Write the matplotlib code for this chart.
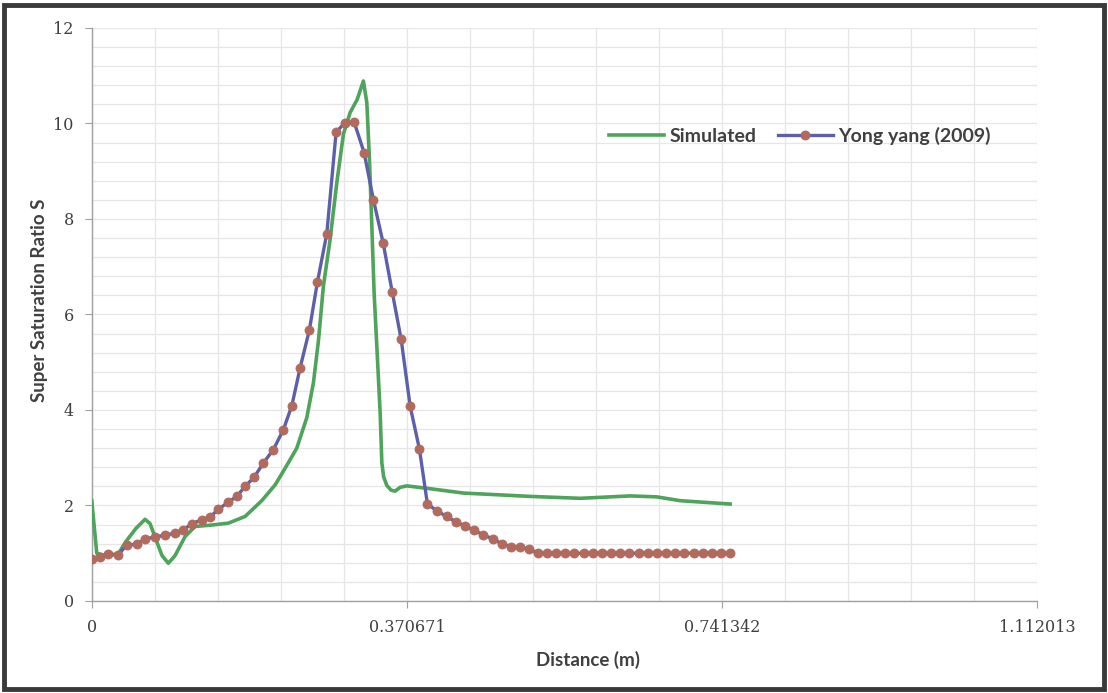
import matplotlib
matplotlib.use("Agg")
import matplotlib.pyplot as plt
from matplotlib.patches import Rectangle
from matplotlib.ticker import MultipleLocator, FixedLocator

# ---- data ----
sim_x = [0.000, 0.0059, 0.0157, 0.031, 0.0404, 0.052, 0.0627, 0.0686, 0.0763, 0.0827,
         0.0901, 0.098, 0.1098, 0.1216, 0.1412, 0.1607, 0.1804, 0.2000, 0.2157, 0.2275,
         0.2412, 0.2530, 0.2608, 0.2667, 0.2725, 0.2804, 0.2883, 0.2961, 0.3040, 0.3122,
         0.3196, 0.3236, 0.3267, 0.3295, 0.3322, 0.3354, 0.3393, 0.3413, 0.3434, 0.3471,
         0.3522, 0.3569, 0.3628, 0.3707, 0.3942, 0.4373, 0.5158, 0.5746, 0.6335, 0.6649,
         0.6923, 0.7511]
sim_y = [2.10, 1.00, 0.95, 0.98, 1.25, 1.52, 1.71, 1.62, 1.25, 0.95,
         0.79, 0.95, 1.35, 1.56, 1.59, 1.63, 1.77, 2.10, 2.43, 2.78,
         3.20, 3.84, 4.57, 5.45, 6.59, 7.57, 8.76, 9.78, 10.23, 10.50,
         10.89, 10.44, 9.25, 7.85, 6.45, 5.33, 3.94, 2.89, 2.60, 2.42,
         2.32, 2.30, 2.38, 2.41, 2.36, 2.26, 2.19, 2.15, 2.20, 2.18,
         2.10, 2.03]

yong_x = [0.0000, 0.0098, 0.0195, 0.0313, 0.0412, 0.0530, 0.0627, 0.0745, 0.0862, 0.0980,
          0.1078, 0.1180, 0.1294, 0.1392, 0.1490, 0.1607, 0.1706, 0.1804, 0.1910, 0.2019,
          0.2137, 0.2255, 0.2354, 0.2451, 0.2561, 0.2655, 0.2765, 0.2875, 0.2981, 0.3087,
          0.3204, 0.3314, 0.3428, 0.3534, 0.3640, 0.3746, 0.3855, 0.3949, 0.4067, 0.4175,
          0.4281, 0.4393, 0.4501, 0.4608, 0.4722, 0.4828, 0.4934, 0.5040, 0.5146, 0.5246,
          0.5354, 0.5462, 0.5570, 0.5678, 0.5786, 0.5893, 0.6001, 0.6109, 0.6217, 0.6325,
          0.6433, 0.6541, 0.6649, 0.6757, 0.6865, 0.6973, 0.7081, 0.7189, 0.7297, 0.7404,
          0.7512]
yong_y = [0.87, 0.93, 0.98, 0.97, 1.17, 1.19, 1.30, 1.34, 1.38, 1.42,
          1.49, 1.62, 1.70, 1.76, 1.92, 2.07, 2.19, 2.40, 2.59, 2.89,
          3.17, 3.59, 4.09, 4.88, 5.68, 6.68, 7.69, 9.82, 10.02, 10.03,
          9.39, 8.40, 7.50, 6.48, 5.48, 4.08, 3.18, 2.03, 1.88, 1.77,
          1.66, 1.57, 1.48, 1.38, 1.30, 1.19, 1.14, 1.12, 1.09, 1.00,
          1.00, 1.00, 1.00, 1.00, 1.00, 1.00, 1.00, 1.00, 1.00, 1.00,
          1.00, 1.00, 1.00, 1.00, 1.00, 1.00, 1.00, 1.00, 1.00, 1.00,
          1.00]

x_ticks = [0, 0.370671, 0.741342, 1.112013]
x_tick_labels = ["0", "0.370671", "0.741342", "1.112013"]
y_ticks = [0, 2, 4, 6, 8, 10, 12]
series_names = ["Simulated", "Yong yang (2009)"]

# ---- figure ----
fig = plt.figure(figsize=(11.08, 6.93), dpi=100)
fig.patch.set_facecolor("white")
ax = fig.add_axes([0.0828, 0.1328, 0.8531, 0.8268])

ax.set_xlim(0, 1.112013)
ax.set_ylim(0, 12)

# gridlines
ax.xaxis.set_major_locator(FixedLocator(x_ticks))
ax.xaxis.set_minor_locator(MultipleLocator(0.370671 / 5))
ax.yaxis.set_major_locator(FixedLocator(y_ticks))
ax.yaxis.set_minor_locator(MultipleLocator(0.4))
ax.grid(which="both", color="#e6e6e6", linewidth=0.9)
ax.set_axisbelow(True)

ax.plot(sim_x, sim_y, color="#4ea45a", linewidth=2.6, solid_joinstyle="round",
        label=series_names[0], zorder=3)
ax.plot(yong_x, yong_y, color="#5d5fa8", linewidth=2.4, marker="o", markersize=6.5,
        markerfacecolor="#b36a5c", markeredgecolor="#a86a60", markeredgewidth=0.6,
        label=series_names[1], zorder=4)

for s in ["top", "right"]:
    ax.spines[s].set_visible(False)
for s in ["left", "bottom"]:
    ax.spines[s].set_color("#a0a0a0")
    ax.spines[s].set_linewidth(1.0)

ax.set_xticklabels(x_tick_labels)
ax.tick_params(which="minor", length=0)
ax.tick_params(which="major", length=5, color="#a0a0a0", labelcolor="#404040",
               labelsize=11.5, pad=8)
for lab in ax.get_xticklabels() + ax.get_yticklabels():
    lab.set_family("DejaVu Serif")

ax.set_xlabel("Distance (m)", fontsize=13.5, fontweight="bold", color="#404040",
              family="Lato")
ax.set_ylabel("Super Saturation Ratio S", fontsize=13.5, fontweight="bold",
              color="#404040", family="Lato")
ax.xaxis.set_label_coords(0.525, -0.088)
ax.yaxis.set_label_coords(-0.046, 0.525)

leg = ax.legend(loc="center left", bbox_to_anchor=(0.543, 0.811), ncol=2, frameon=False,
                handlelength=2.85, handletextpad=0.25, columnspacing=1.1,
                borderpad=0.2, borderaxespad=0.0,
                prop={"family": "Lato", "weight": "bold", "size": 14})
for t in leg.get_texts():
    t.set_color("#404040")

# outer frame
fig.patches.append(Rectangle((0.004, 0.006), 0.992, 0.987, transform=fig.transFigure,
                             fill=False, edgecolor="#3a3a3a", linewidth=3.5))

fig.savefig("out.png", dpi=100, facecolor="white")
